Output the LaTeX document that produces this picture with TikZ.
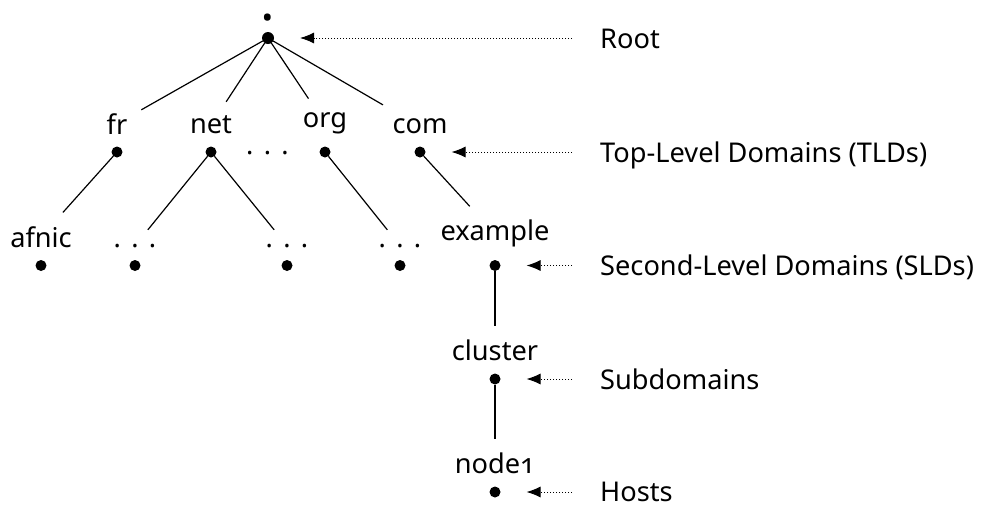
\documentclass[tikz,border=0pt]{standalone}
\usepackage{fontspec}
\setmainfont{Noto Sans}[Numbers=OldStyle]
\usetikzlibrary{arrows.meta}
\begin{document}
\begin{tikzpicture}[x=1pt,y=-1pt,
  font=\fontsize{27.2}{33}\selectfont,
  dot/.style={circle,fill=black,inner sep=0pt,minimum size=11pt,outer sep=0pt},
  lbl/.style={anchor=south,inner sep=14pt,outer sep=0pt},
  edge/.style={line width=1.2pt},
  pointer/.style={line width=1pt,dash pattern=on 1pt off 2pt,-{Latex[length=14pt,width=11pt]},shorten >=26pt},
  side/.style={anchor=base west,inner sep=0pt}]
\useasboundingbox (0,0) rectangle (981,507);
% root
\node[dot,minimum size=12pt] (R) at (268,38) {};
\node[anchor=base,inner sep=0pt] (Rl) at (268,20.5) {\scalebox{2}{.}};
% TLDs
\node[dot] (fr) at (117,152) {};
\node[dot] (net) at (211,152) {};
\node[dot] (org) at (325,152) {};
\node[dot] (com) at (420,152) {};
\node[lbl] (frl) at (117,148) {fr};
\node[lbl] (netl) at (211,148) {net};
\node[lbl] (orgl) at (325,148) {org};
\node[lbl] (coml) at (420,148) {com};
\node[anchor=base,inner sep=0pt] (tdots) at (267.5,154) {.\hspace{0.38em}.\hspace{0.38em}.};
% SLDs
\node[dot] (afnic) at (41,265.5) {};
\node[dot] (e1) at (135,265.5) {};
\node[dot] (e2) at (287,265.5) {};
\node[dot] (e3) at (400,265.5) {};
\node[dot] (example) at (495,265.5) {};
\node[lbl] (afnicl) at (41,261.5) {afnic};
\node[lbl] (e1l) at (135,261.5) {.\hspace{0.38em}.\hspace{0.38em}.};
\node[lbl] (e2l) at (287,261.5) {.\hspace{0.38em}.\hspace{0.38em}.};
\node[lbl] (e3l) at (400,261.5) {.\hspace{0.38em}.\hspace{0.38em}.};
\node[lbl] (examplel) at (495,261.5) {example};
% subdomain and host
\node[dot] (cluster) at (495,379) {};
\node[lbl] (clusterl) at (495,375) {cluster};
\node[dot] (host) at (495,492) {};
\node[lbl] (hostl) at (495,488) {node1};
% tree edges
\draw[edge] (R) -- (frl);
\draw[edge] (R) -- (netl);
\draw[edge] (R) -- (orgl);
\draw[edge] (R) -- (coml);
\draw[edge] (fr) -- (afnicl);
\draw[edge] (net) -- (e1l);
\draw[edge] (net) -- (e2l);
\draw[edge] (org) -- (e3l);
\draw[edge] (com) -- (examplel);
\draw[edge] (example) -- (clusterl);
\draw[edge] (cluster) -- (hostl);
% level labels
\node[side] (L1) at (600,48) {Root};
\node[side] (L2) at (600,162) {Top-Level Domains (TLDs)};
\node[side] (L3) at (600,275.5) {Second-Level Domains (SLDs)};
\node[side] (L4) at (600,389) {Subdomains};
\node[side] (L5) at (600,501) {Hosts};
\draw[pointer] ([xshift=-28pt,yshift=10pt]L1.base west) -- (R);
\draw[pointer] ([xshift=-28pt,yshift=10pt]L2.base west) -- (com);
\draw[pointer] ([xshift=-28pt,yshift=10pt]L3.base west) -- (example);
\draw[pointer] ([xshift=-28pt,yshift=10pt]L4.base west) -- (cluster);
\draw[pointer] ([xshift=-28pt,yshift=9pt]L5.base west) -- (host);
\end{tikzpicture}
\end{document}
